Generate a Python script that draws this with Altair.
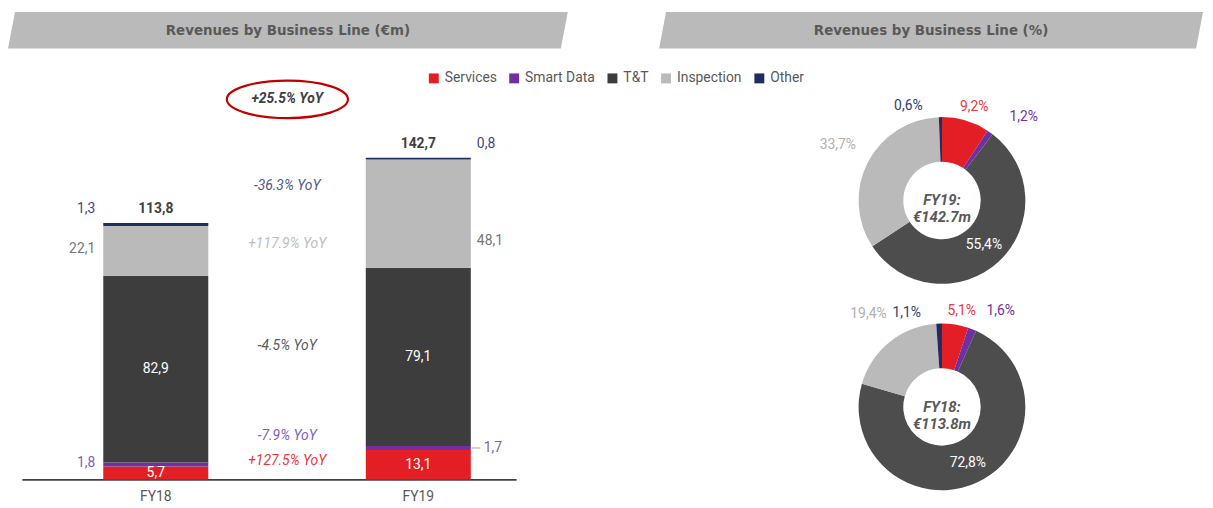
import altair as alt
import pandas as pd

# ---------------- data ----------------
years = ["FY18", "FY19"]
segments = ["Services", "Smart Data", "T&T", "Inspection", "Other"]
fy18_values = [5.7, 1.8, 82.9, 22.1, 1.3]
fy19_values = [13.1, 1.7, 79.1, 48.1, 0.8]
totals = [113.8, 142.7]
yoy_labels = ["+127.5% YoY", "-7.9% YoY", "-4.5% YoY", "+117.9% YoY", "-36.3% YoY"]
total_yoy = "+25.5% YoY"
fy18_pct = [5.1, 1.6, 72.8, 19.4, 1.1]
fy19_pct = [9.2, 1.2, 55.4, 33.7, 0.6]
donut_centres = ["FY18:\n€113.8m", "FY19:\n€142.7m"]
titles = ["Revenues by Business Line (€m)", "Revenues by Business Line (%)"]

# ---------------- styles ----------------
FONT = "Roboto"
TITLE_FONT = "Liberation Sans Narrow, DejaVu Sans Condensed, Roboto"
bar_colors = ["#E31E24", "#7030A0", "#3D3D3D", "#BABABA", "#1F2D5F"]
donut_colors = ["#E31E24", "#7030A0", "#4D4D4D", "#BABABA", "#1F2D5F"]
bar_label_colors = ["#FFFFFF", "#7F5FB8", "#FFFFFF", "#767676", "#3B4A80"]
yoy_colors = ["#E8383F", "#7F5FB8", "#595959", "#BDBDBD", "#505A80"]
yoy_dy_px = [-8, -20, -17, 12, -6]
donut_label_colors = ["#E8383F", "#7030A0", "#FFFFFF", "#B0B0B0", "#2F3B6B"]

BAR_W, BAR_H = 498, 421
Y_MAX = 185.5
PXU = BAR_H / Y_MAX
HALF_BAND = 53  # half of the bar width, used to move marks from band start


def fmt(v):
    return f"{v:.1f}".replace(".", ",")


# ---------------- tables ----------------
rows = []
for yr, vals in zip(years, [fy18_values, fy19_values]):
    cum = 0.0
    for si, (s, v) in enumerate(zip(segments, vals)):
        rows.append(dict(year=yr, seg=s, ord=si, val=v, y0=cum, y1=cum + v,
                         mid=cum + v / 2, label=fmt(v), lc=bar_label_colors[si]))
        cum += v
bdf = pd.DataFrame(rows)

tdf = pd.DataFrame({"year": years, "total": totals, "label": [fmt(t) for t in totals]})

yrows = []
for si, s in enumerate(segments):
    m18 = bdf[(bdf.year == "FY18") & (bdf.seg == s)].mid.iloc[0]
    m19 = bdf[(bdf.year == "FY19") & (bdf.seg == s)].mid.iloc[0]
    yrows.append(dict(x="FY19", y=(m18 + m19) / 2 - yoy_dy_px[si] / PXU,
                      text=yoy_labels[si], c=yoy_colors[si]))
ydf = pd.DataFrame(yrows)
tydf = pd.DataFrame({"x": ["FY19"], "y": [max(totals) + 26], "text": [total_yoy]})

# ---------------- bar chart ----------------
xscale = alt.Scale(domain=years, paddingInner=0.6, paddingOuter=0.2414, align=0.642)
yscale = alt.Scale(domain=[0, Y_MAX], nice=False, zero=True)
x_enc = alt.X("year:N", scale=xscale,
              axis=alt.Axis(title=None, labelFont=FONT, labelFontSize=14, labelColor="#595959",
                            ticks=False, domainColor="#404040", domainWidth=2,
                            labelPadding=10, labelAngle=0))
y_axis = alt.Axis(title=None, labels=False, ticks=False, domain=False, grid=False, minExtent=14)

base = alt.Chart(bdf)
bars = base.mark_bar().encode(
    x=x_enc,
    y=alt.Y("y0:Q", scale=yscale, axis=y_axis),
    y2="y1:Q",
    color=alt.Color("seg:N", scale=alt.Scale(domain=segments, range=bar_colors),
                    legend=alt.Legend(orient="none", legendX=408, legendY=62,
                                      direction="horizontal", title=None,
                                      symbolType="square", symbolSize=100,
                                      symbolStrokeWidth=0,
                                      labelFont=FONT, labelFontSize=14,
                                      labelColor="#595959", columnPadding=10,
                                      labelOffset=4)),
)

txt_kw = dict(font=FONT, fontSize=14)
inside = base.transform_filter(
    alt.FieldOneOfPredicate(field="seg", oneOf=["Services", "T&T"])
).mark_text(color="white", **txt_kw).encode(
    x=alt.X("year:N", scale=xscale), y=alt.Y("mid:Q", scale=yscale), text="label:N")


def side_labels(year, segs, yfield, align, dx, dy):
    return base.transform_filter(alt.datum.year == year).transform_filter(
        alt.FieldOneOfPredicate(field="seg", oneOf=segs)
    ).mark_text(align=align, dx=dx, dy=dy, **txt_kw).encode(
        x=alt.X("year:N", scale=xscale), y=alt.Y(f"{yfield}:Q", scale=yscale),
        text="label:N", color=alt.Color("lc:N", scale=None))


out18 = side_labels("FY18", ["Smart Data", "Inspection"], "mid", "right", -61, -2)
out19a = side_labels("FY19", ["Smart Data"], "mid", "left", 66, 0)
out19b = side_labels("FY19", ["Inspection"], "mid", "left", 59, 28)
oth18 = side_labels("FY18", ["Other"], "y1", "right", -61, -14)
oth19 = side_labels("FY19", ["Other"], "y1", "left", 59, -14)

leader = base.transform_filter(alt.datum.year == "FY19").transform_filter(
    alt.datum.seg == "Smart Data"
).mark_tick(size=9, thickness=2, color="#BDBDBD").encode(
    x=alt.X("year:N", scale=xscale), y=alt.Y("mid:Q", scale=yscale),
    xOffset=alt.value(HALF_BAND + 58))

tot = alt.Chart(tdf).mark_text(fontWeight="bold", color="#404040", dy=-14, **txt_kw).encode(
    x=alt.X("year:N", scale=xscale), y=alt.Y("total:Q", scale=yscale), text="label:N")

yoy = alt.Chart(ydf).mark_text(fontStyle="italic", dx=-132, **txt_kw).encode(
    x=alt.X("x:N", scale=xscale), y=alt.Y("y:Q", scale=yscale), text="text:N",
    color=alt.Color("c:N", scale=None))

ELLIPSE = ("M -1 0 C -1 -0.171 -0.552 -0.31 0 -0.31 C 0.552 -0.31 1 -0.171 1 0 "
           "C 1 0.171 0.552 0.31 0 0.31 C -0.552 0.31 -1 0.171 -1 0 Z")
tyoy = alt.Chart(tydf).mark_text(fontStyle="italic", fontWeight="bold", color="#404040",
                                 dx=-132, **txt_kw).encode(
    x=alt.X("x:N", scale=xscale), y=alt.Y("y:Q", scale=yscale), text="text:N")
ring = alt.Chart(tydf).mark_point(shape=ELLIPSE, size=14900, filled=False, stroke="#C00000",
                                  strokeWidth=2.2, opacity=1).encode(
    x=alt.X("x:N", scale=xscale), y=alt.Y("y:Q", scale=yscale),
    xOffset=alt.value(HALF_BAND - 132))

bar_chart = alt.layer(bars, inside, out18, out19a, out19b, oth18, oth19, leader, tot, yoy,
                      ring, tyoy).properties(width=BAR_W, height=BAR_H)


# ---------------- donuts ----------------
def donut(pcts, centre, h):
    df = pd.DataFrame({"seg": segments, "pct": pcts, "ord": list(range(len(segments))),
                       "fc": donut_colors, "lc": donut_label_colors,
                       "label": [fmt(p) + "%" for p in pcts]})
    b = alt.Chart(df).encode(theta=alt.Theta("pct:Q", stack=True),
                             order=alt.Order("ord:Q"), detail="seg:N")
    arc = b.mark_arc(innerRadius=39, outerRadius=84, strokeWidth=0).encode(
        color=alt.Color("fc:N", scale=None))

    def lab(segs, radius, dx=0, dy=0):
        expr = "indexof(" + str(segs) + ", datum.seg) >= 0 ? datum.label : ''"
        return b.transform_calculate(t=expr).mark_text(radius=radius, dx=dx, dy=dy, **txt_kw).encode(
            text="t:N", color=alt.Color("lc:N", scale=None))

    l1 = lab(["Services"], 100, dx=4, dy=2)
    l1b = lab(["Inspection"], 118, dy=-2)
    l2 = lab(["Other"], 100, dx=-32, dy=5)
    l3 = lab(["Smart Data"], 108, dx=20, dy=4)
    l4 = lab(["T&T"], 62)
    ctext = alt.Chart(pd.DataFrame({"t": [centre]})).mark_text(
        lineBreak="\n", fontStyle="italic", fontWeight="bold", fontSize=15, font=FONT,
        color="#595959", baseline="middle").encode(text="t:N")
    return alt.layer(arc, l1, l1b, l2, l3, l4, ctext).properties(width=530, height=h)


d19 = donut(fy19_pct, donut_centres[1], 280)
d18 = donut(fy18_pct, donut_centres[0], 136)
donut_col = alt.vconcat(d19, d18, spacing=0, bounds="flush").resolve_scale(theta="independent")


# ---------------- banners ----------------
def banner(text, w, shift=0, slant=7):
    full = w + shift
    df = pd.DataFrame({"y": [0, 37], "x": [0, slant], "x2": [full - slant, full]})
    xs = alt.Scale(domain=[0, full], range=[-shift, w], nice=False)
    ys = alt.Scale(domain=[0, 39], nice=False)
    area = alt.Chart(df).mark_area(orient="horizontal", color="#BABABA").encode(
        y=alt.Y("y:Q", scale=ys, axis=None),
        x=alt.X("x:Q", scale=xs, axis=None),
        x2="x2:Q")
    t = alt.Chart(pd.DataFrame({"t": [text], "x": [full / 2], "y": [18.5]})).mark_text(
        font=TITLE_FONT, fontWeight="bold", fontSize=15, color="#595959").encode(
        x=alt.X("x:Q", scale=xs, axis=None),
        y=alt.Y("y:Q", scale=ys, axis=None),
        text="t:N")
    return alt.layer(area, t).properties(width=w, height=39)


banner_row = alt.hconcat(banner(titles[0], 550, shift=14), banner(titles[1], 548), spacing=92)
content_row = alt.hconcat(bar_chart, donut_col, spacing=164)

chart = alt.vconcat(banner_row, content_row, spacing=13).properties(padding=0).configure_view(
    strokeWidth=0)

chart.save("out.html", embed_options={"renderer": "svg", "actions": False})
